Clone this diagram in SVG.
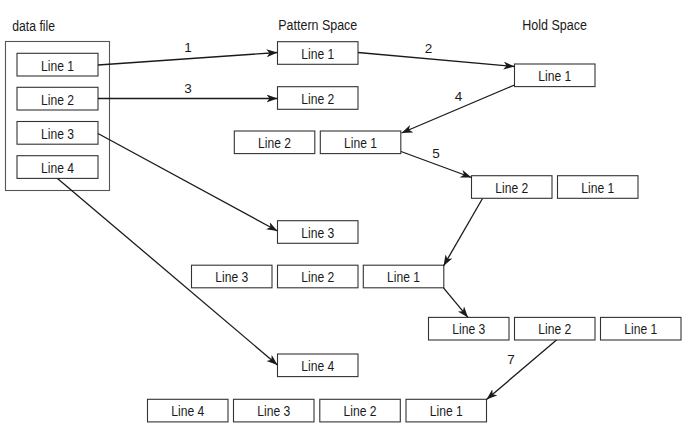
<svg xmlns="http://www.w3.org/2000/svg" width="690" height="433" viewBox="0 0 690 433">
<defs>
<style>
.box{fill:#fff;stroke:#333;stroke-width:1.1}
.frame{fill:none;stroke:#555;stroke-width:1.1}
.t{font-family:"Liberation Sans",Arial,sans-serif;font-size:15px;fill:#1a1a1a;text-anchor:middle}
.h{font-family:"Liberation Sans",Arial,sans-serif;font-size:14px;fill:#1a1a1a}
.lbl{font-family:"Liberation Sans",Arial,sans-serif;font-size:13.5px;fill:#1a1a1a;text-anchor:middle}
.c{fill:none;stroke:#1a1a1a;stroke-width:1.3;marker-end:url(#ah)}
</style>
<marker id="ah" markerUnits="userSpaceOnUse" markerWidth="12" markerHeight="9" refX="11" refY="4" orient="auto">
<path d="M0,0 L11,4 L0,8 L3,4 z" fill="#1a1a1a"/>
</marker>
</defs>
<rect width="690" height="433" fill="#fff"/>

<g id="headers">
<text class="h" x="12.3" y="30.5" textLength="42.7" lengthAdjust="spacingAndGlyphs">data file</text>
<text class="h" x="278.3" y="30" textLength="79" lengthAdjust="spacingAndGlyphs">Pattern Space</text>
<text class="h" x="522.3" y="30" textLength="64.7" lengthAdjust="spacingAndGlyphs">Hold Space</text>
</g>

<g id="datafile">
<rect class="frame" x="5.5" y="41.5" width="104" height="149"/>
</g>
<g id="df1"><rect class="box" x="17" y="53.3" width="81" height="22.7"/><text class="t" x="57.5" y="71" textLength="33" lengthAdjust="spacingAndGlyphs">Line 1</text></g>
<g id="df2"><rect class="box" x="17" y="87.3" width="81" height="22.7"/><text class="t" x="57.5" y="105" textLength="33" lengthAdjust="spacingAndGlyphs">Line 2</text></g>
<g id="df3"><rect class="box" x="17" y="121.5" width="81" height="22.7"/><text class="t" x="57.5" y="139.2" textLength="33" lengthAdjust="spacingAndGlyphs">Line 3</text></g>
<g id="df4"><rect class="box" x="17" y="155.7" width="81" height="22.7"/><text class="t" x="57.5" y="173.4" textLength="33" lengthAdjust="spacingAndGlyphs">Line 4</text></g>

<g id="p1"><rect class="box" x="277.5" y="41.7" width="80.5" height="22.6"/><text class="t" x="317.8" y="58.5" textLength="33" lengthAdjust="spacingAndGlyphs">Line 1</text></g>
<g id="p2"><rect class="box" x="277.5" y="86.7" width="80.5" height="22.6"/><text class="t" x="317.8" y="103.5" textLength="33" lengthAdjust="spacingAndGlyphs">Line 2</text></g>
<g id="p3"><rect class="box" x="277.5" y="220.7" width="80.5" height="22.6"/><text class="t" x="317.8" y="237.5" textLength="33" lengthAdjust="spacingAndGlyphs">Line 3</text></g>
<g id="p4"><rect class="box" x="277.5" y="354" width="80.5" height="22.6"/><text class="t" x="317.8" y="370.8" textLength="33" lengthAdjust="spacingAndGlyphs">Line 4</text></g>

<g id="h1"><rect class="box" x="514.5" y="64" width="80.5" height="22.6"/><text class="t" x="554.8" y="80.8" textLength="33" lengthAdjust="spacingAndGlyphs">Line 1</text></g>

<g id="r3a"><rect class="box" x="234.3" y="131" width="80.5" height="22.6"/><text class="t" x="274.5" y="147.8" textLength="33" lengthAdjust="spacingAndGlyphs">Line 2</text></g>
<g id="r3b"><rect class="box" x="320.3" y="131" width="80.5" height="22.6"/><text class="t" x="360.5" y="147.8" textLength="33" lengthAdjust="spacingAndGlyphs">Line 1</text></g>

<g id="r4a"><rect class="box" x="471.5" y="175.7" width="80.5" height="22.6"/><text class="t" x="511.8" y="192.5" textLength="33" lengthAdjust="spacingAndGlyphs">Line 2</text></g>
<g id="r4b"><rect class="box" x="557.5" y="175.7" width="80.5" height="22.6"/><text class="t" x="597.8" y="192.5" textLength="33" lengthAdjust="spacingAndGlyphs">Line 1</text></g>

<g id="r5a"><rect class="box" x="191.5" y="265.2" width="80.5" height="22.6"/><text class="t" x="231.8" y="282" textLength="33" lengthAdjust="spacingAndGlyphs">Line 3</text></g>
<g id="r5b"><rect class="box" x="277.5" y="265.2" width="80.5" height="22.6"/><text class="t" x="317.8" y="282" textLength="33" lengthAdjust="spacingAndGlyphs">Line 2</text></g>
<g id="r5c"><rect class="box" x="363.3" y="265.2" width="80.5" height="22.6"/><text class="t" x="403.5" y="282" textLength="33" lengthAdjust="spacingAndGlyphs">Line 1</text></g>

<g id="r6a"><rect class="box" x="428.5" y="317.4" width="80.5" height="22.6"/><text class="t" x="468.8" y="334.2" textLength="33" lengthAdjust="spacingAndGlyphs">Line 3</text></g>
<g id="r6b"><rect class="box" x="514.5" y="317.4" width="80.5" height="22.6"/><text class="t" x="554.8" y="334.2" textLength="33" lengthAdjust="spacingAndGlyphs">Line 2</text></g>
<g id="r6c"><rect class="box" x="600.5" y="317.4" width="80.5" height="22.6"/><text class="t" x="640.8" y="334.2" textLength="33" lengthAdjust="spacingAndGlyphs">Line 1</text></g>

<g id="r7a"><rect class="box" x="147.5" y="399.3" width="80.5" height="22.6"/><text class="t" x="187.8" y="416.1" textLength="33" lengthAdjust="spacingAndGlyphs">Line 4</text></g>
<g id="r7b"><rect class="box" x="233.5" y="399.3" width="80.5" height="22.6"/><text class="t" x="273.8" y="416.1" textLength="33" lengthAdjust="spacingAndGlyphs">Line 3</text></g>
<g id="r7c"><rect class="box" x="319.8" y="399.3" width="80.5" height="22.6"/><text class="t" x="360" y="416.1" textLength="33" lengthAdjust="spacingAndGlyphs">Line 2</text></g>
<g id="r7d"><rect class="box" x="406" y="399.3" width="80.5" height="22.6"/><text class="t" x="446.3" y="416.1" textLength="33" lengthAdjust="spacingAndGlyphs">Line 1</text></g>

<g id="connectors">
<line class="c" x1="98" y1="65" x2="277.5" y2="52.5"/>
<line class="c" x1="98" y1="98.5" x2="277.5" y2="98.5"/>
<line class="c" x1="358" y1="52.5" x2="514.5" y2="66.5"/>
<line class="c" x1="514.5" y1="85" x2="401.5" y2="133"/>
<line class="c" x1="401" y1="151.5" x2="471.5" y2="177.5"/>
<line class="c" x1="482.5" y1="198.5" x2="443.5" y2="266"/>
<line class="c" x1="443.5" y1="287.8" x2="468" y2="317.4"/>
<line class="c" x1="556.5" y1="340" x2="486.5" y2="399.5"/>
<line class="c" x1="98" y1="133.5" x2="277.5" y2="231"/>
<line class="c" x1="57.5" y1="178.4" x2="277.5" y2="365"/>
<text class="lbl" x="188" y="52">1</text>
<text class="lbl" x="188" y="93">3</text>
<text class="lbl" x="428.5" y="52.5">2</text>
<text class="lbl" x="458.5" y="101">4</text>
<text class="lbl" x="436" y="157.7">5</text>
<text class="lbl" x="511" y="364">7</text>
</g>
</svg>
